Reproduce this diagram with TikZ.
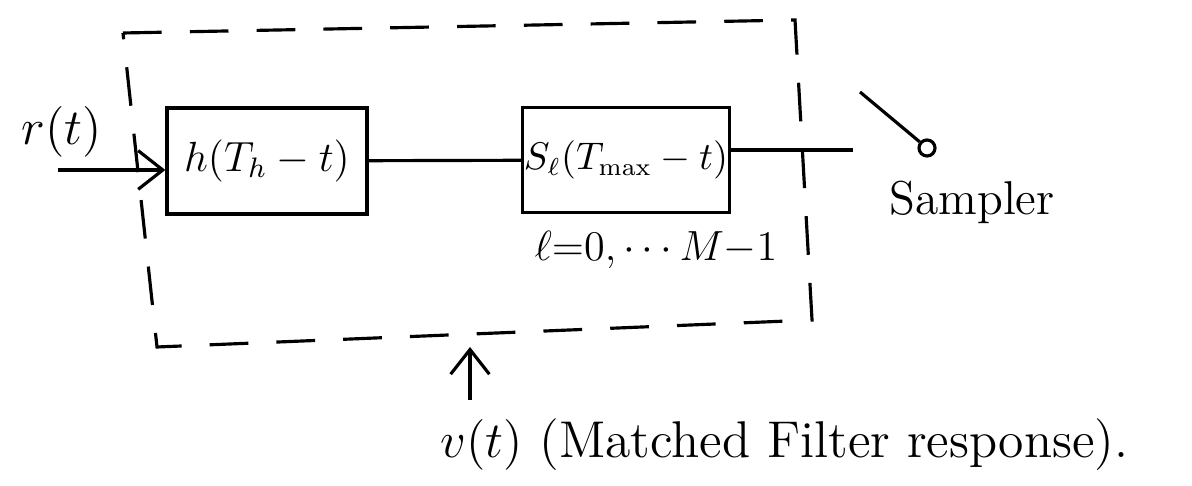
\documentclass[tikz,border=0pt]{standalone}
\usetikzlibrary{arrows.meta}
\begin{document}
\begin{tikzpicture}[x=0.01cm,y=-0.01cm,
line width=0.9pt,
font=\fontsize{13.5}{16}\selectfont,
block/.style={draw,inner sep=0pt,font=\fontsize{11.5}{14}\selectfont},
frame/.style={dash pattern=on 11pt off 8pt},
barb/.style={-{Straight Barb[length=7pt,width=11pt]}}]
\useasboundingbox (0,0) rectangle (1192,486);
\node[block,minimum width=2cm,minimum height=1.06cm] (hfilt) at (267,161) {$h(T_h-t)$};
\node[block,minimum width=2.07cm,minimum height=1.05cm,font=\fontsize{10.5}{13}\selectfont] (sfilt) at (626,160) {$S_\ell(T_{\mathrm{max}}-t)$};
\node[font=\fontsize{15}{18}\selectfont] (rlabel) at (62,132) {$r(t)$};
\node[font=\fontsize{12}{14}\selectfont] (ellrange) at (656,250) {$\ell{=}0,\cdots M{-}1$};
\node (sampler) at (972,202) {Sampler};
\node[anchor=west,font=\fontsize{14.7}{17}\selectfont] (vlabel) at (427,445) {$v(t)$ (Matched Filter response).};
\node[draw,circle,inner sep=0pt,minimum size=0.16cm] (tap) at (927,148) {};
\coordinate (rin) at (58,170);
\coordinate (sout) at (853,150);
\coordinate (swa) at (860,92);
\coordinate (vtail) at (470,400);
\coordinate (vhead) at (470,347);
\draw[frame] (123,33) -- (795,20) -- (812,320) -- (157,347) -- cycle;
\draw[barb] (rin) -- (rin -| hfilt.west);
\draw (hfilt) -- (sfilt);
\draw (sfilt.east |- sout) -- (sout);
\draw (swa) -- (tap);
\draw[barb] (vtail) -- (vhead);
\end{tikzpicture}
\end{document}
